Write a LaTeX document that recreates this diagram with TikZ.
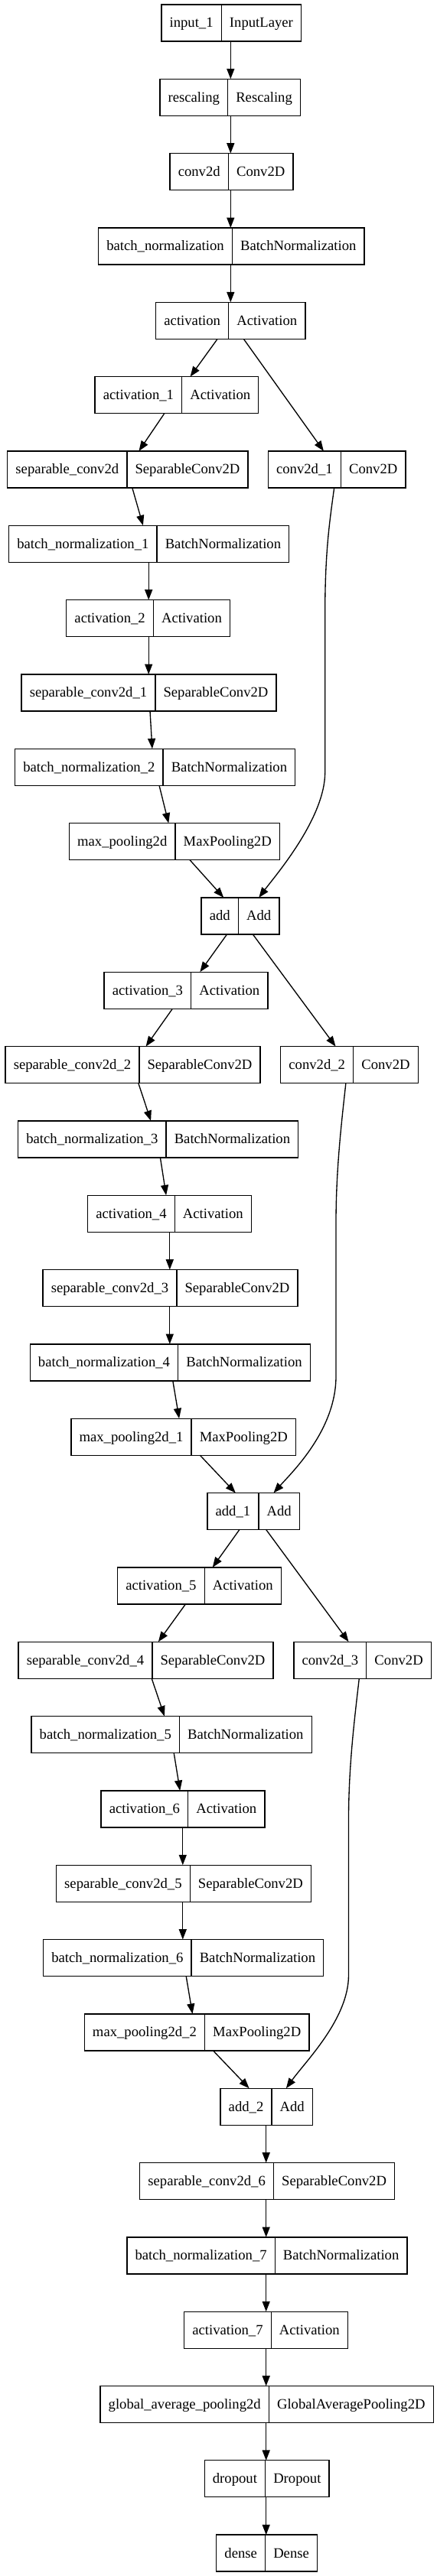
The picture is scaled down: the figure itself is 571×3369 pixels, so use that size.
\documentclass[tikz,border=0pt]{standalone}
\usepackage{fontspec}
\setmainfont{Liberation Serif}
\usetikzlibrary{arrows.meta}

% one Keras layer: name, rank, x of the divider, layer name, layer type
\newcommand{\keraslayer}[5]{%
  \node[field, anchor=east] (#1) at (#3,{29.9+(#2-1)*97.33}) {#4};
  \node[field, anchor=west] (#1t) at (#3,{29.9+(#2-1)*97.33}) {#5};
}

\begin{document}
\begin{tikzpicture}[x=0.75pt, y=-0.75pt,
    field/.style={draw, line width=1pt, minimum height=36pt, inner xsep=8pt, inner ysep=0pt, outer sep=0pt, text height=11pt, text depth=2pt, font=\fontsize{14pt}{16pt}\selectfont},
    arr/.style={-{Triangle[length=10pt, width=7.5pt]}, line width=1pt}
]
\useasboundingbox (0,0) rectangle (571,3369);

\keraslayer{in0}{1}{289.3}{input\_1}{InputLayer}
\keraslayer{resc}{2}{297.6}{rescaling}{Rescaling}
\keraslayer{conv}{3}{298.4}{conv2d}{Conv2D}
\keraslayer{bn}{4}{303.4}{batch\_normalization}{BatchNormalization}
\keraslayer{act}{5}{298.7}{activation}{Activation}
\keraslayer{act1}{6}{237.7}{activation\_1}{Activation}
\keraslayer{sep}{7}{165.9}{separable\_conv2d}{SeparableConv2D}
\keraslayer{conv1}{7}{445.4}{conv2d\_1}{Conv2D}
\keraslayer{bn1}{8}{205.1}{batch\_normalization\_1}{BatchNormalization}
\keraslayer{act2}{9}{200.4}{activation\_2}{Activation}
\keraslayer{sep1}{10}{202.9}{separable\_conv2d\_1}{SeparableConv2D}
\keraslayer{bn2}{11}{213.1}{batch\_normalization\_2}{BatchNormalization}
\keraslayer{pool}{12}{229.0}{max\_pooling2d}{MaxPooling2D}
\keraslayer{add}{13}{311.4}{add}{Add}
\keraslayer{act3}{14}{249.7}{activation\_3}{Activation}
\keraslayer{sep2}{15}{181.9}{separable\_conv2d\_2}{SeparableConv2D}
\keraslayer{conv2}{15}{461.7}{conv2d\_2}{Conv2D}
\keraslayer{bn3}{16}{217.1}{batch\_normalization\_3}{BatchNormalization}
\keraslayer{act4}{17}{228.3}{activation\_4}{Activation}
\keraslayer{sep3}{18}{230.9}{separable\_conv2d\_3}{SeparableConv2D}
\keraslayer{bn4}{19}{232.7}{batch\_normalization\_4}{BatchNormalization}
\keraslayer{pool1}{20}{250.1}{max\_pooling2d\_1}{MaxPooling2D}
\keraslayer{add1}{21}{337.9}{add\_1}{Add}
\keraslayer{act5}{22}{267.2}{activation\_5}{Activation}
\keraslayer{sep4}{23}{198.9}{separable\_conv2d\_4}{SeparableConv2D}
\keraslayer{conv3}{23}{478.8}{conv2d\_3}{Conv2D}
\keraslayer{bn5}{24}{234.5}{batch\_normalization\_5}{BatchNormalization}
\keraslayer{act6}{25}{245.7}{activation\_6}{Activation}
\keraslayer{sep5}{26}{248.3}{separable\_conv2d\_5}{SeparableConv2D}
\keraslayer{bn6}{27}{250.1}{batch\_normalization\_6}{BatchNormalization}
\keraslayer{pool2}{28}{267.5}{max\_pooling2d\_2}{MaxPooling2D}
\keraslayer{add2}{29}{355.0}{add\_2}{Add}
\keraslayer{sep6}{30}{357.5}{separable\_conv2d\_6}{SeparableConv2D}
\keraslayer{bn7}{31}{359.3}{batch\_normalization\_7}{BatchNormalization}
\keraslayer{act7}{32}{354.3}{activation\_7}{Activation}
\keraslayer{gap}{33}{351.4}{global\_average\_pooling2d}{GlobalAveragePooling2D}
\keraslayer{drop}{34}{346.6}{dropout}{Dropout}
\keraslayer{dense}{35}{346.6}{dense}{Dense}

% stem
\draw[arr] (301.3,0 |- in0.south) -- (301.3,0 |- resc.north);
\draw[arr] (301.3,0 |- resc.south) -- (301.3,0 |- conv.north);
\draw[arr] (301.3,0 |- conv.south) -- (301.3,0 |- bn.north);
\draw[arr] (301.3,0 |- bn.south) -- (301.3,0 |- act.north);

% block 1
\draw[arr] (284.2,0 |- act.south) -- (248.6,0 |- act1.north);
\draw[arr] (318.3,0 |- act.south) -- (422.9,0 |- conv1.north);
\draw[arr] (214.9,0 |- act1.south) -- (181.5,0 |- sep.north);
\draw[arr] (172.8,0 |- sep.south) -- (186.9,0 |- bn1.north);
\draw[arr] (194.2,0 |- bn1.south) -- (194.2,0 |- act2.north);
\draw[arr] (194.2,0 |- act2.south) -- (194.2,0 |- sep1.north);
\draw[arr] (196.0,0 |- sep1.south) -- (198.9,0 |- bn2.north);
\draw[arr] (208.0,0 |- bn2.south) -- (220.3,0 |- pool.north);
\draw[arr] (247.9,0 |- pool.south) -- (292.2,0 |- add.north);
\draw[arr] (436.7,0 |- conv1.south) .. controls (431,680) and (424.7,720) .. (424.7,800)
    -- (424.7,1010) .. controls (424.7,1070) and (360,1145) .. (338.3,0 |- add.north);

% block 2
\draw[arr] (296.6,0 |- add.south) -- (261.3,0 |- act3.north);
\draw[arr] (330.3,0 |- add.south) -- (438.5,0 |- conv2.north);
\draw[arr] (225.4,0 |- act3.south) -- (190.6,0 |- sep2.north);
\draw[arr] (180.8,0 |- sep2.south) -- (197.1,0 |- bn3.north);
\draw[arr] (209.4,0 |- bn3.south) -- (217.1,0 |- act4.north);
\draw[arr] (221.8,0 |- act4.south) -- (221.8,0 |- sep3.north);
\draw[arr] (221.8,0 |- sep3.south) -- (221.8,0 |- bn4.north);
\draw[arr] (225.8,0 |- bn4.south) -- (234.1,0 |- pool1.north);
\draw[arr] (261.3,0 |- pool1.south) -- (307.8,0 |- add1.north);
\draw[arr] (451.9,0 |- conv2.south) .. controls (446,1470) and (439,1530) .. (439,1600)
    -- (439,1800) .. controls (439,1870) and (382,1925) .. (357.5,0 |- add1.north);

% block 3
\draw[arr] (312.9,0 |- add1.south) -- (277.7,0 |- act5.north);
\draw[arr] (347.7,0 |- add1.south) -- (455.5,0 |- conv3.north);
\draw[arr] (242.5,0 |- act5.south) -- (206.9,0 |- sep4.north);
\draw[arr] (198.2,0 |- sep4.south) -- (214.9,0 |- bn5.north);
\draw[arr] (227.2,0 |- bn5.south) -- (235.2,0 |- act6.north);
\draw[arr] (238.8,0 |- act6.south) -- (238.8,0 |- sep5.north);
\draw[arr] (238.8,0 |- sep5.south) -- (238.8,0 |- bn6.north);
\draw[arr] (243.2,0 |- bn6.south) -- (251.5,0 |- pool2.north);
\draw[arr] (278.4,0 |- pool2.south) -- (325.6,0 |- add2.north);
\draw[arr] (469.3,0 |- conv3.south) .. controls (463,2250) and (455.5,2310) .. (455.5,2380)
    -- (455.5,2583) .. controls (455.5,2640) and (400,2695) .. (373.9,0 |- add2.north);

% head
\draw[arr] (347.7,0 |- add2.south) -- (347.7,0 |- sep6.north);
\draw[arr] (347.7,0 |- sep6.south) -- (347.7,0 |- bn7.north);
\draw[arr] (347.7,0 |- bn7.south) -- (347.7,0 |- act7.north);
\draw[arr] (347.7,0 |- act7.south) -- (347.7,0 |- gap.north);
\draw[arr] (347.7,0 |- gap.south) -- (347.7,0 |- drop.north);
\draw[arr] (347.7,0 |- drop.south) -- (347.7,0 |- dense.north);
\end{tikzpicture}
\end{document}
